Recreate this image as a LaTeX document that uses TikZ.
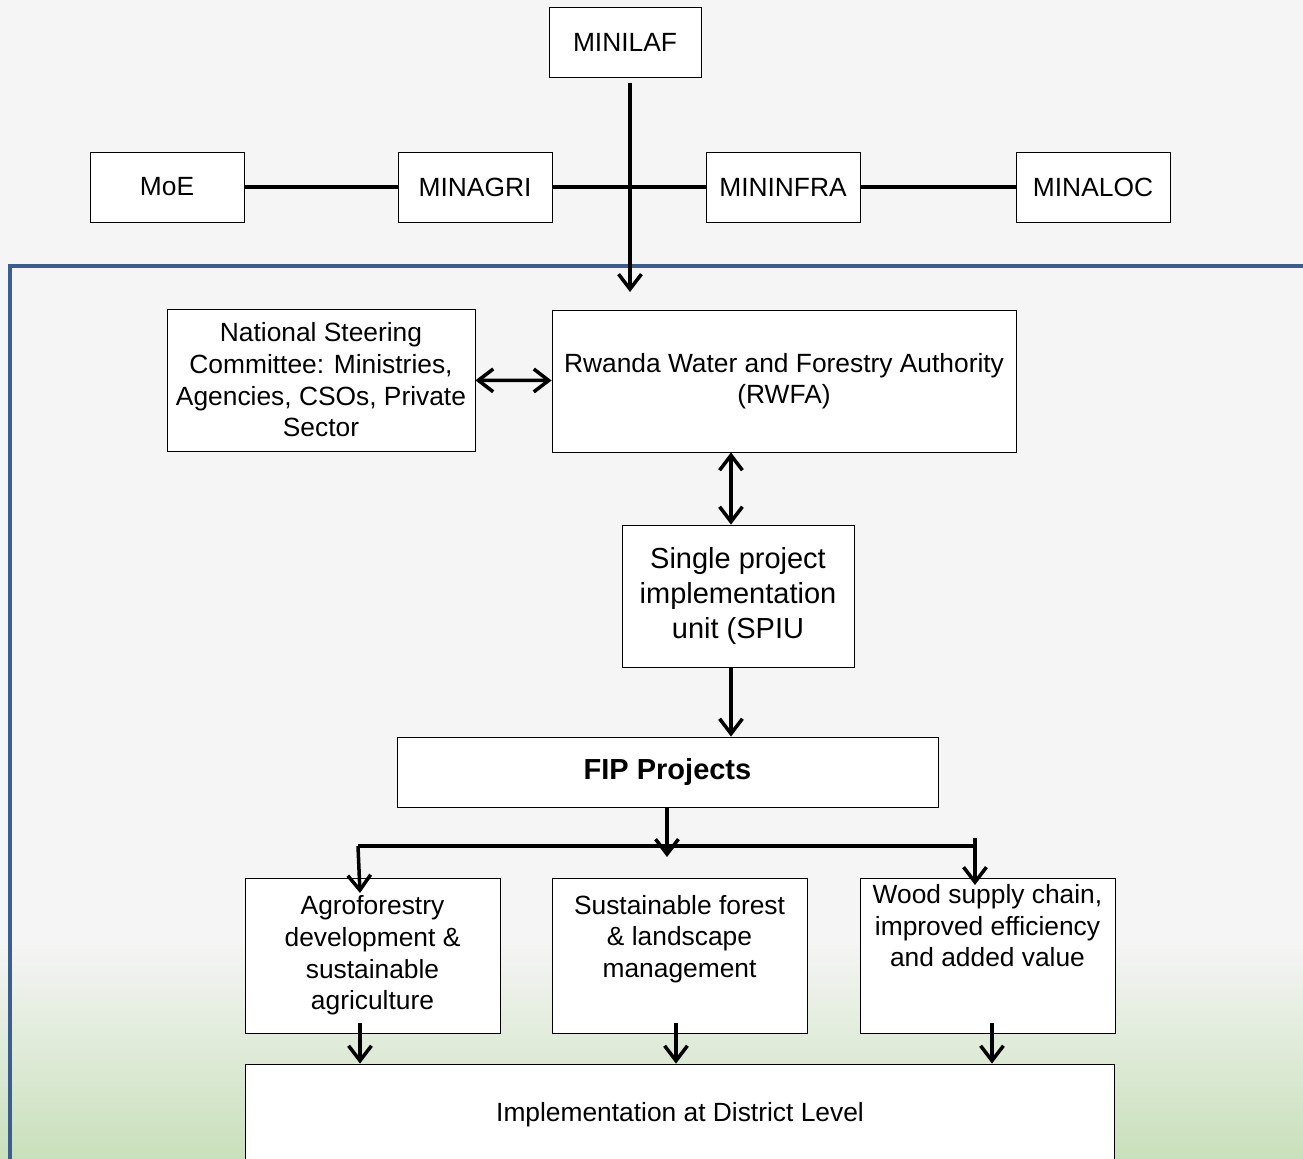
\documentclass[tikz,border=0pt]{standalone}
\usepackage{fontspec}
\setmainfont{Liberation Sans}
\usetikzlibrary{arrows.meta, calc}
\definecolor{bggray}{HTML}{F5F5F5}
\definecolor{bggreen}{HTML}{C9E0BB}
\definecolor{frameblue}{HTML}{3A5F8F}

\begin{document}
\begin{tikzpicture}[
  x=0.02cm, y=-0.02cm,
  >={Straight Barb[length=8.5pt, width=13pt]},
  every node/.style={font=\fontsize{15}{18}\selectfont},
  box/.style={draw, fill=white, line width=0.5pt, align=center, inner sep=2pt},
  ministry/.style={box, minimum width=3.08cm, minimum height=1.4cm},
  unitbox/.style={box, minimum height=2.84cm},
  branch/.style={box, minimum width=5.1cm, minimum height=3.1cm},
  link/.style={line width=2pt},
]

% Background
\useasboundingbox (0,0) rectangle (1303,1159);
\fill[bggray] (0,0) rectangle (1303,940);
\shade[top color=bggray, bottom color=bggreen] (0,939) rectangle (1303,1159);

% Blue frame round the implementing side
\draw[frameblue, line width=2.8pt] (1310,266) -- (10,266) -- (10,1170);

% Ministries
\node[box, minimum width=3.04cm, minimum height=1.4cm] (minilaf) at (625,42) {MINILAF};
\node[ministry] (moe)      at (167,187)  {MoE};
\node[ministry] (minagri)  at (475,187)  {MINAGRI};
\node[ministry] (mininfra) at (783,187)  {MININFRA};
\node[ministry] (minaloc)  at (1093,187) {MINALOC};

\draw[link] (moe) -- (minagri);
\draw[link] (minagri) -- (mininfra);
\draw[link] (mininfra) -- (minaloc);

% Steering and authority
\node[unitbox, minimum width=6.16cm] (nsc) at (321,380)
  {National Steering\\Committee: Ministries,\\Agencies, CSOs, Private\\Sector};
\node[unitbox, minimum width=9.28cm] (rwfa) at (784,381)
  {Rwanda Water and Forestry Authority\\(RWFA)};

\coordinate (lafdrop) at (630,292);
\draw[link, ->, shorten <=3pt] (minilaf.south -| lafdrop) -- (lafdrop);
\draw[link, <->] (nsc) -- (rwfa);

% SPIU and projects
\node[unitbox, minimum width=4.64cm, font=\fontsize{16.5}{20}\selectfont] (spiu) at (738,596)
  {Single project\\implementation\\unit (SPIU};
\node[box, minimum width=10.82cm, minimum height=1.4cm, font=\fontsize{16.5}{20}\selectfont\bfseries] (fip) at (667.5,772)
  {FIP Projects};

\coordinate (spine) at (731,0);
\draw[link, <->] (rwfa.south -| spine) -- (spine |- spiu.north);
\draw[link, ->] (spiu.south -| spine) -- (spine |- fip.north);

% Three project lines
\node[branch] (agro) at (372.5,955.5)
  {Agroforestry\\development \&\\sustainable\\agriculture};
\node[branch] (sfm) at (679.5,955.5)
  {Sustainable forest\\\& landscape\\management\\[4pt]\mbox{}};
\node[branch] (wood) at (987.5,955.5)
  {Wood supply chain,\\improved efficiency\\and added value\\[16pt]\mbox{}};

\coordinate (busL)     at (358,846);
\coordinate (busR)     at (975,846);
\coordinate (agrotip)  at (360,893);
\coordinate (fiptip)   at (667,857);
\coordinate (woodtop)  at (975,838);
\coordinate (woodtip)  at (975,885);
\draw[link] (busR) -- (busL);
\draw[link, ->] (busL) -- (agrotip);
\draw[link, ->] (fip.south -| fiptip) -- (fiptip);
\draw[link, ->] (woodtop) -- (woodtip);

% District level
\node[box, minimum width=17.4cm, minimum height=2.04cm] (impl) at (680,1115)
  {Implementation at District Level};

\coordinate (agrodrop) at (360,1023);
\coordinate (sfmdrop)  at (676,1023);
\coordinate (wooddrop) at (992,1023);
\draw[link, ->] (agrodrop) -- (agrodrop |- impl.north);
\draw[link, ->] (sfmdrop) -- (sfmdrop |- impl.north);
\draw[link, ->] (wooddrop) -- (wooddrop |- impl.north);

\end{tikzpicture}
\end{document}
